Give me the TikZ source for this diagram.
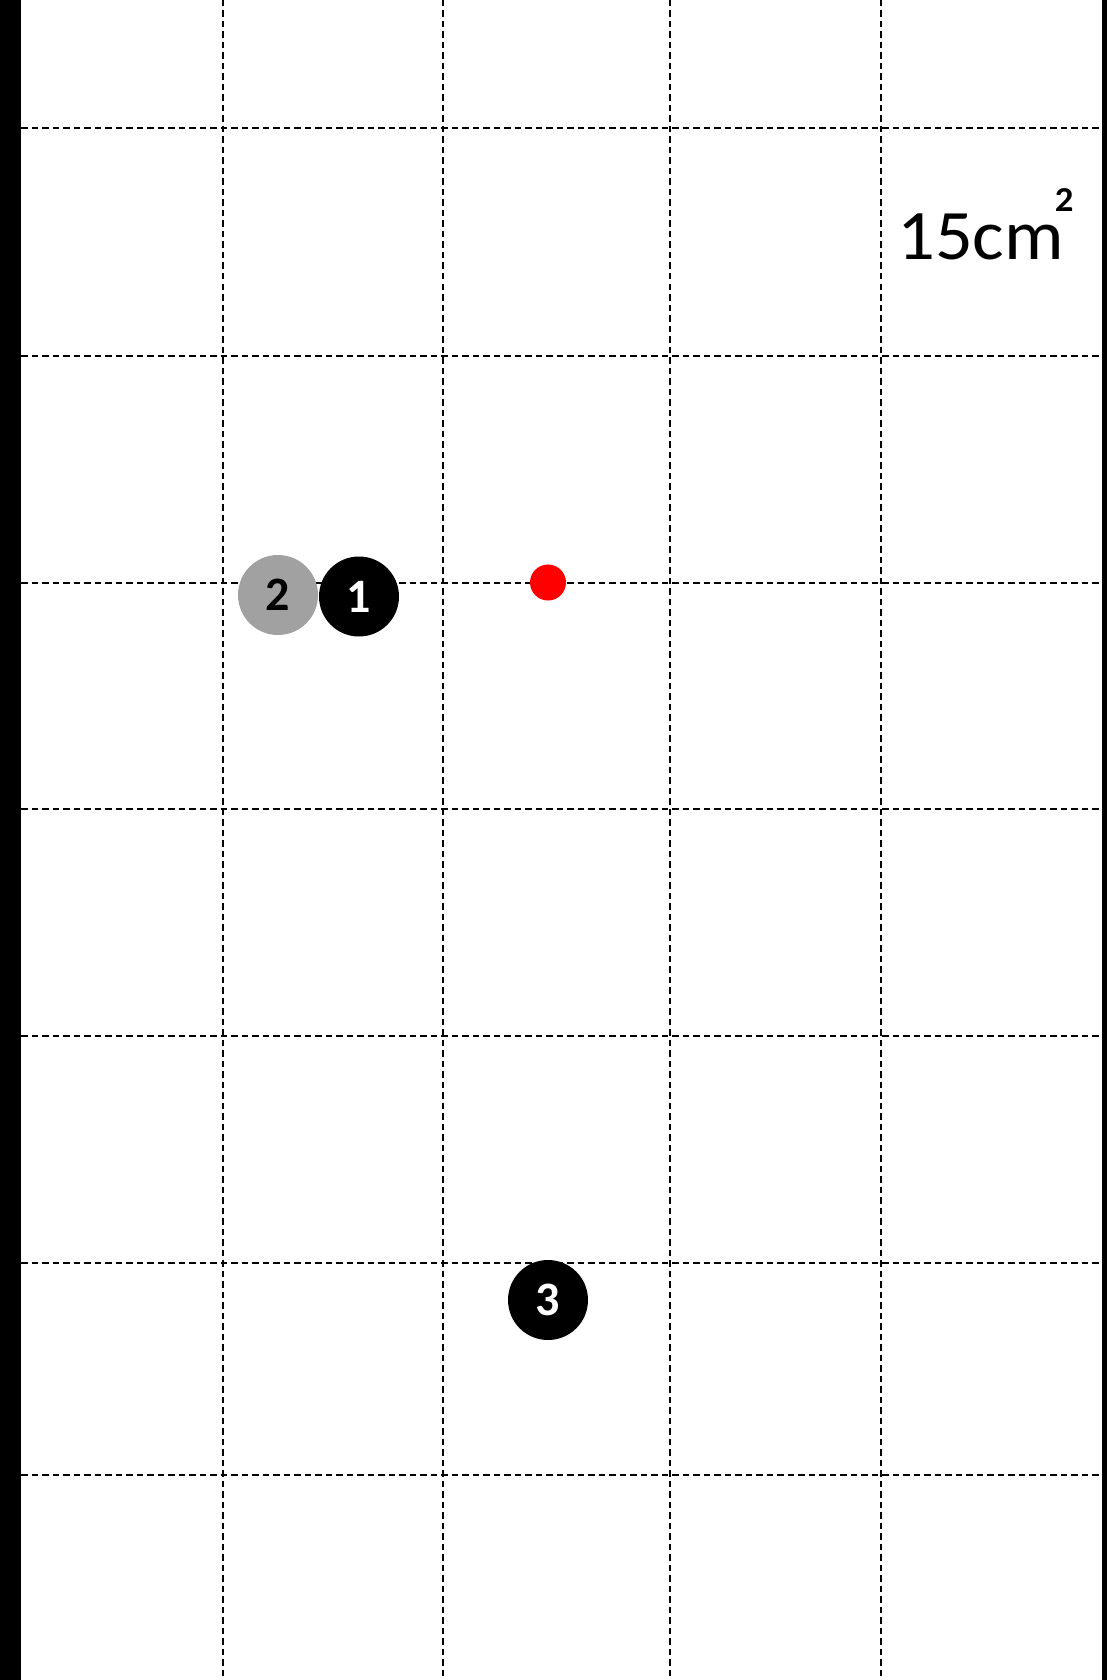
\documentclass[tikz,border=0pt]{standalone}
\usepackage{fontspec}
\setmainfont{Carlito}
\newfontfamily\widefont[FakeStretch=1.05]{Carlito}
\begin{document}
\begin{tikzpicture}[x=1pt,y=-1pt,
  gridline/.style={black, line width=2pt, dash pattern=on 6.5pt off 4pt},
  blackdot/.style={circle, fill=black, minimum size=80pt, inner sep=0pt, text=white, font=\fontsize{48}{48}\selectfont\bfseries},
  graydot/.style={circle, fill=black!37, minimum size=80pt, inner sep=0pt, text=black, font=\fontsize{48}{48}\selectfont\bfseries},
  reddot/.style={circle, fill=red, minimum size=36pt, inner sep=0pt}]
\useasboundingbox (0,0) rectangle (1107,1680);
\fill[white] (0,0) rectangle (1107,1680);
% side bars
\fill[black] (0,0) rectangle (21,1680);
\fill[black] (1102,0) rectangle (1107,1680);
% vertical grid lines
\foreach \x in {223,443,670,881} \draw[gridline] (\x,0) -- (\x,1680);
% horizontal grid lines
\foreach \y in {128.5,356,582.5,808.5,1036,1262.5,1475} \draw[gridline] (21,\y) -- (1102,\y);
% label
\node[anchor=base west, inner sep=0pt, font=\widefont\fontsize{71}{71}\selectfont] (area) at (897,260)
  {15cm\kern-9pt\raisebox{48pt}{\fontsize{35}{35}\selectfont\bfseries 2}};
% dots
\node[graydot] (c2) at (278,595) {2};
\node[blackdot] (c1) at (359,596.5) {1};
\node[reddot] (red) at (548,582.5) {};
\node[blackdot] (c3) at (548,1300) {3};
\end{tikzpicture}
\end{document}
